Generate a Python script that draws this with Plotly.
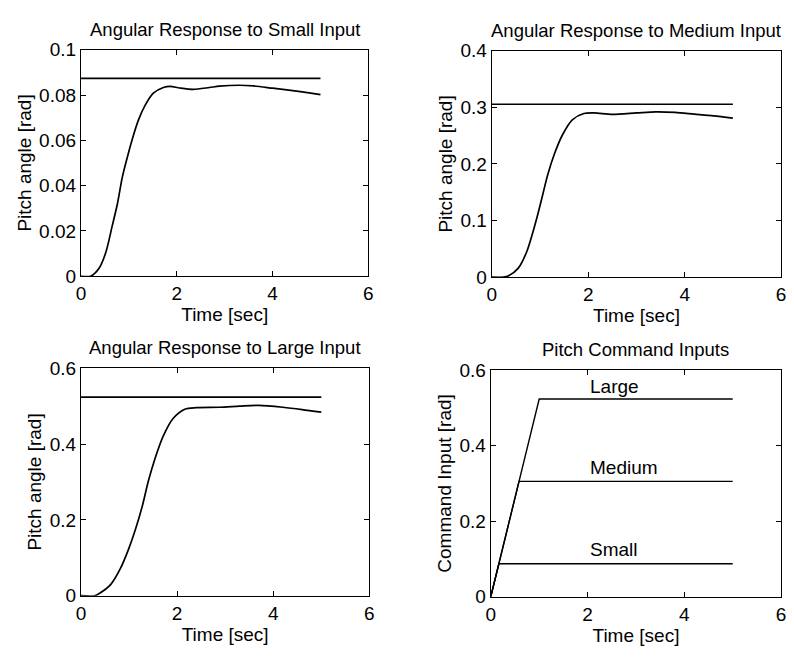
import plotly.graph_objects as go
from plotly.subplots import make_subplots

# ---- data ----
t_ref = [0, 5]
small_cmd = 0.0873
medium_cmd = 0.3054
large_cmd = 0.5236

t_small = [0, 0.2, 0.38, 0.52, 0.65, 0.76, 0.86, 0.96, 1.07, 1.2, 1.34, 1.51, 1.72, 1.86, 2.06, 2.34,
           2.68, 2.89, 3.3, 3.6, 4.0, 4.5, 5.0]
y_small = [0, 0, 0.0036, 0.0107, 0.0221, 0.032, 0.0435, 0.052, 0.0605, 0.069, 0.0755, 0.0808, 0.0833,
           0.0838, 0.0831, 0.0825, 0.0833, 0.0839, 0.0843, 0.0840, 0.083, 0.0817, 0.0802]

t_medium = [0, 0.25, 0.34, 0.55, 0.72, 0.85, 0.96, 1.06, 1.16, 1.3, 1.47, 1.67, 1.91, 2.12, 2.5, 3.0,
            3.4, 3.8, 4.2, 4.6, 5.0]
y_medium = [0, 0, 0.002, 0.016, 0.044, 0.079, 0.113, 0.147, 0.181, 0.218, 0.252, 0.278, 0.289, 0.290,
            0.2875, 0.290, 0.292, 0.291, 0.288, 0.285, 0.281]

t_large = [0, 0.28, 0.38, 0.62, 0.82, 0.99, 1.13, 1.27, 1.40, 1.54, 1.71, 1.92, 2.16, 2.4, 2.88, 3.3,
           3.7, 4.2, 4.6, 5.0]
y_large = [0, 0, 0.006, 0.030, 0.072, 0.123, 0.174, 0.234, 0.302, 0.362, 0.421, 0.468, 0.492, 0.496,
           0.497, 0.500, 0.502, 0.497, 0.491, 0.484]

ramp_rate = 0.5236  # rad/sec
cmd_levels = [large_cmd, medium_cmd, small_cmd]
cmd_names = ["Large", "Medium", "Small"]
cmd_label_y = [0.558, 0.342, 0.125]

titles = ["Angular Response to Small Input", "Angular Response to Medium Input",
          "Angular Response to Large Input", "Pitch Command Inputs"]

FONT = "Liberation Sans, Arial, Helvetica, sans-serif"
FS = 19
LW = 1.7

fig = make_subplots(rows=2, cols=2)

def add_resp(t, y, ref, row, col):
    fig.add_trace(go.Scatter(x=t_ref, y=[ref, ref], mode="lines",
                             line=dict(color="black", width=LW), showlegend=False), row=row, col=col)
    fig.add_trace(go.Scatter(x=t, y=y, mode="lines", line=dict(color="black", width=LW, shape="spline",
                                                               smoothing=0.8),
                             showlegend=False), row=row, col=col)

add_resp(t_small, y_small, small_cmd, 1, 1)
add_resp(t_medium, y_medium, medium_cmd, 1, 2)
add_resp(t_large, y_large, large_cmd, 2, 1)

for lvl in cmd_levels:
    fig.add_trace(go.Scatter(x=[0, lvl / ramp_rate, 5], y=[0, lvl, lvl], mode="lines",
                             line=dict(color="black", width=1.4), showlegend=False), row=2, col=2)

# domains (from reference pixels)
W, H = 794, 659
doms = {
    1: ([77, 368], [41, 275]),
    2: ([493, 786], [42, 276]),
    3: ([77, 369], [370, 605]),
    4: ([492, 786], [372, 606]),
}
yticks = {
    1: ([0, 0.02, 0.04, 0.06, 0.08, 0.1], ["0", "0.02", "0.04", "0.06", "0.08", "0.1"], [0, 0.1]),
    2: ([0, 0.1, 0.2, 0.3, 0.4], ["0", "0.1", "0.2", "0.3", "0.4"], [0, 0.4]),
    3: ([0, 0.2, 0.4, 0.6], ["0", "0.2", "0.4", "0.6"], [0, 0.6]),
    4: ([0, 0.2, 0.4, 0.6], ["0", "0.2", "0.4", "0.6"], [0, 0.6]),
}
ytitles = {1: "Pitch angle [rad]", 2: "Pitch angle [rad]", 3: "Pitch angle [rad]", 4: "Command Input [rad]"}

axcommon = dict(showline=True, linecolor="black", linewidth=1.3, mirror="ticks", ticks="inside",
                ticklen=5, tickcolor="black", tickwidth=1.2, showgrid=False, zeroline=False,
                tickfont=dict(family=FONT, size=FS, color="black"))

annotations = []
for i in range(1, 5):
    xd, yd = doms[i]
    xs = "xaxis" if i == 1 else f"xaxis{i}"
    ys = "yaxis" if i == 1 else f"yaxis{i}"
    fig.layout[xs].update(domain=[xd[0] / W, xd[1] / W], range=[0, 6], tickvals=[0, 2, 4, 6],
                          ticktext=["0", "2", "4", "6"],
                          title=dict(text="Time [sec]", font=dict(family=FONT, size=FS, color="black"),
                                     standoff=0), **axcommon)
    tv, tt, rg = yticks[i]
    fig.layout[ys].update(domain=[1 - yd[1] / H, 1 - yd[0] / H], range=rg, tickvals=tv, ticktext=tt,
                          title=dict(text=ytitles[i], font=dict(family=FONT, size=FS, color="black"),
                                     standoff=2), **axcommon)
    annotations.append(dict(x=(xd[0] + xd[1]) / 2 / W, y=1 - (yd[0] - 21) / H, xref="paper", yref="paper",
                            text=titles[i - 1], showarrow=False, xanchor="center", yanchor="middle",
                            font=dict(family=FONT, size=FS - 0.5, color="black")))

for name, yv in zip(cmd_names, cmd_label_y):
    annotations.append(dict(x=2.0, y=yv, xref="x4", yref="y4", text=name, showarrow=False,
                            xanchor="left", yanchor="middle", font=dict(family=FONT, size=FS, color="black")))

fig.update_layout(width=W, height=H, margin=dict(l=0, r=0, t=0, b=0),
                  paper_bgcolor="white", plot_bgcolor="white", annotations=annotations,
                  font=dict(family=FONT, color="black"))

fig.write_html("out.html")
